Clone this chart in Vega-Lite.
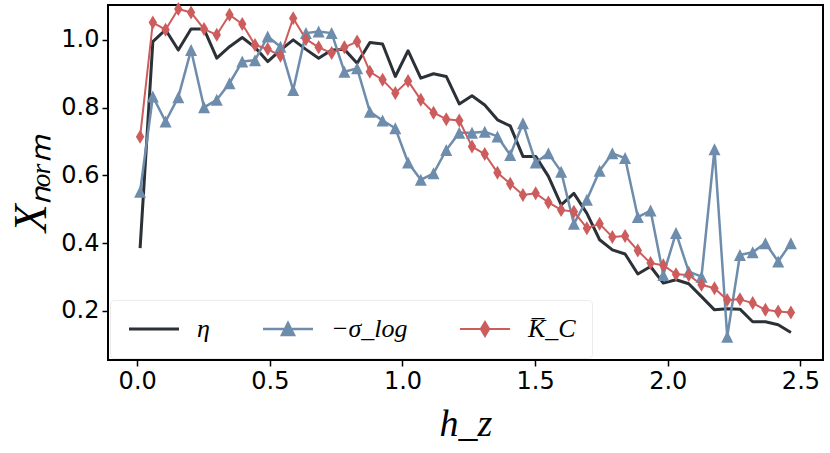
{
"$schema": "https://vega.github.io/schema/vega-lite/v6.json",
"width": 715, "height": 355,
"autosize": {"type": "none"},
"padding": {"left": 108, "top": 5, "right": 7, "bottom": 93},
"background": "white",
"config": {
 "view": {"stroke": "black", "strokeWidth": 2},
 "axis": {"domain": false, "grid": false, "ticks": true, "tickColor": "black", "tickWidth": 1.5, "tickSize": 6,
  "labelFont": "DejaVu Sans", "labelFontSize": 24, "labelColor": "black", "labelPadding": 3,
  "titleFont": "Liberation Serif", "titleFontStyle": "italic", "titleFontWeight": "normal", "titleColor": "black"}
},
"data": {"values": [
{"h":0.011,"v":0.385,"s":"eta"},{"h":0.059,"v":0.995,"s":"eta"},{"h":0.107,"v":1.030,"s":"eta"},{"h":0.155,"v":0.970,"s":"eta"},{"h":0.203,"v":1.032,"s":"eta"},{"h":0.252,"v":1.032,"s":"eta"},{"h":0.300,"v":0.946,"s":"eta"},{"h":0.348,"v":0.980,"s":"eta"},{"h":0.396,"v":1.007,"s":"eta"},{"h":0.444,"v":0.978,"s":"eta"},{"h":0.492,"v":0.936,"s":"eta"},{"h":0.540,"v":0.970,"s":"eta"},{"h":0.588,"v":1.000,"s":"eta"},{"h":0.636,"v":0.972,"s":"eta"},{"h":0.684,"v":0.946,"s":"eta"},{"h":0.733,"v":0.970,"s":"eta"},{"h":0.781,"v":0.972,"s":"eta"},{"h":0.829,"v":0.931,"s":"eta"},{"h":0.877,"v":0.992,"s":"eta"},{"h":0.925,"v":0.988,"s":"eta"},{"h":0.973,"v":0.892,"s":"eta"},{"h":1.021,"v":0.968,"s":"eta"},{"h":1.069,"v":0.887,"s":"eta"},{"h":1.117,"v":0.900,"s":"eta"},{"h":1.165,"v":0.892,"s":"eta"},{"h":1.214,"v":0.811,"s":"eta"},{"h":1.262,"v":0.835,"s":"eta"},{"h":1.310,"v":0.808,"s":"eta"},{"h":1.358,"v":0.764,"s":"eta"},{"h":1.406,"v":0.746,"s":"eta"},{"h":1.454,"v":0.656,"s":"eta"},{"h":1.502,"v":0.656,"s":"eta"},{"h":1.550,"v":0.597,"s":"eta"},{"h":1.598,"v":0.513,"s":"eta"},{"h":1.646,"v":0.547,"s":"eta"},{"h":1.695,"v":0.488,"s":"eta"},{"h":1.743,"v":0.410,"s":"eta"},{"h":1.791,"v":0.380,"s":"eta"},{"h":1.839,"v":0.368,"s":"eta"},{"h":1.887,"v":0.309,"s":"eta"},{"h":1.935,"v":0.331,"s":"eta"},{"h":1.983,"v":0.282,"s":"eta"},{"h":2.031,"v":0.292,"s":"eta"},{"h":2.079,"v":0.280,"s":"eta"},{"h":2.127,"v":0.242,"s":"eta"},{"h":2.176,"v":0.203,"s":"eta"},{"h":2.224,"v":0.206,"s":"eta"},{"h":2.272,"v":0.205,"s":"eta"},{"h":2.320,"v":0.168,"s":"eta"},{"h":2.368,"v":0.168,"s":"eta"},{"h":2.416,"v":0.159,"s":"eta"},{"h":2.464,"v":0.136,"s":"eta"},
{"h":0.011,"v":0.552,"s":"sigma"},{"h":0.059,"v":0.833,"s":"sigma"},{"h":0.107,"v":0.759,"s":"sigma"},{"h":0.155,"v":0.831,"s":"sigma"},{"h":0.203,"v":0.970,"s":"sigma"},{"h":0.252,"v":0.801,"s":"sigma"},{"h":0.300,"v":0.823,"s":"sigma"},{"h":0.348,"v":0.872,"s":"sigma"},{"h":0.396,"v":0.936,"s":"sigma"},{"h":0.444,"v":0.940,"s":"sigma"},{"h":0.492,"v":1.010,"s":"sigma"},{"h":0.540,"v":0.980,"s":"sigma"},{"h":0.588,"v":0.852,"s":"sigma"},{"h":0.636,"v":1.020,"s":"sigma"},{"h":0.684,"v":1.025,"s":"sigma"},{"h":0.733,"v":1.020,"s":"sigma"},{"h":0.781,"v":0.906,"s":"sigma"},{"h":0.829,"v":0.916,"s":"sigma"},{"h":0.877,"v":0.788,"s":"sigma"},{"h":0.925,"v":0.762,"s":"sigma"},{"h":0.973,"v":0.739,"s":"sigma"},{"h":1.021,"v":0.638,"s":"sigma"},{"h":1.069,"v":0.587,"s":"sigma"},{"h":1.117,"v":0.606,"s":"sigma"},{"h":1.165,"v":0.675,"s":"sigma"},{"h":1.214,"v":0.726,"s":"sigma"},{"h":1.262,"v":0.726,"s":"sigma"},{"h":1.310,"v":0.729,"s":"sigma"},{"h":1.358,"v":0.715,"s":"sigma"},{"h":1.406,"v":0.660,"s":"sigma"},{"h":1.454,"v":0.754,"s":"sigma"},{"h":1.502,"v":0.638,"s":"sigma"},{"h":1.550,"v":0.665,"s":"sigma"},{"h":1.598,"v":0.611,"s":"sigma"},{"h":1.646,"v":0.457,"s":"sigma"},{"h":1.695,"v":0.528,"s":"sigma"},{"h":1.743,"v":0.614,"s":"sigma"},{"h":1.791,"v":0.665,"s":"sigma"},{"h":1.839,"v":0.651,"s":"sigma"},{"h":1.887,"v":0.477,"s":"sigma"},{"h":1.935,"v":0.496,"s":"sigma"},{"h":1.983,"v":0.306,"s":"sigma"},{"h":2.031,"v":0.430,"s":"sigma"},{"h":2.079,"v":0.316,"s":"sigma"},{"h":2.127,"v":0.301,"s":"sigma"},{"h":2.176,"v":0.677,"s":"sigma"},{"h":2.224,"v":0.124,"s":"sigma"},{"h":2.272,"v":0.365,"s":"sigma"},{"h":2.320,"v":0.373,"s":"sigma"},{"h":2.368,"v":0.400,"s":"sigma"},{"h":2.416,"v":0.346,"s":"sigma"},{"h":2.464,"v":0.400,"s":"sigma"},
{"h":0.011,"v":0.714,"s":"kappa"},{"h":0.059,"v":1.051,"s":"kappa"},{"h":0.107,"v":1.030,"s":"kappa"},{"h":0.155,"v":1.091,"s":"kappa"},{"h":0.203,"v":1.081,"s":"kappa"},{"h":0.252,"v":1.032,"s":"kappa"},{"h":0.300,"v":1.015,"s":"kappa"},{"h":0.348,"v":1.074,"s":"kappa"},{"h":0.396,"v":1.047,"s":"kappa"},{"h":0.444,"v":0.985,"s":"kappa"},{"h":0.492,"v":0.973,"s":"kappa"},{"h":0.540,"v":0.953,"s":"kappa"},{"h":0.588,"v":1.064,"s":"kappa"},{"h":0.636,"v":1.002,"s":"kappa"},{"h":0.684,"v":0.978,"s":"kappa"},{"h":0.733,"v":0.961,"s":"kappa"},{"h":0.781,"v":0.978,"s":"kappa"},{"h":0.829,"v":0.995,"s":"kappa"},{"h":0.877,"v":0.906,"s":"kappa"},{"h":0.925,"v":0.882,"s":"kappa"},{"h":0.973,"v":0.843,"s":"kappa"},{"h":1.021,"v":0.879,"s":"kappa"},{"h":1.069,"v":0.823,"s":"kappa"},{"h":1.117,"v":0.785,"s":"kappa"},{"h":1.165,"v":0.766,"s":"kappa"},{"h":1.214,"v":0.762,"s":"kappa"},{"h":1.262,"v":0.685,"s":"kappa"},{"h":1.310,"v":0.663,"s":"kappa"},{"h":1.358,"v":0.608,"s":"kappa"},{"h":1.406,"v":0.575,"s":"kappa"},{"h":1.454,"v":0.542,"s":"kappa"},{"h":1.502,"v":0.547,"s":"kappa"},{"h":1.550,"v":0.520,"s":"kappa"},{"h":1.598,"v":0.498,"s":"kappa"},{"h":1.646,"v":0.493,"s":"kappa"},{"h":1.695,"v":0.444,"s":"kappa"},{"h":1.743,"v":0.457,"s":"kappa"},{"h":1.791,"v":0.418,"s":"kappa"},{"h":1.839,"v":0.421,"s":"kappa"},{"h":1.887,"v":0.378,"s":"kappa"},{"h":1.935,"v":0.341,"s":"kappa"},{"h":1.983,"v":0.335,"s":"kappa"},{"h":2.031,"v":0.308,"s":"kappa"},{"h":2.079,"v":0.306,"s":"kappa"},{"h":2.127,"v":0.277,"s":"kappa"},{"h":2.176,"v":0.267,"s":"kappa"},{"h":2.224,"v":0.232,"s":"kappa"},{"h":2.272,"v":0.234,"s":"kappa"},{"h":2.320,"v":0.223,"s":"kappa"},{"h":2.368,"v":0.203,"s":"kappa"},{"h":2.416,"v":0.198,"s":"kappa"},{"h":2.464,"v":0.195,"s":"kappa"}
]},
"layer": [
 {
  "mark": {"type": "line", "strokeJoin": "round"},
  "encoding": {
   "x": {"field": "h", "type": "quantitative", "scale": {"domain": [-0.11, 2.585], "nice": false, "zero": false},
         "axis": {"title": "h_z", "values": [0, 0.5, 1, 1.5, 2, 2.5], "format": ".1f", "titlePadding": 12, "titleFontSize": 38}},
   "y": {"field": "v", "type": "quantitative", "scale": {"domain": [0.055, 1.103], "nice": false, "zero": false},
         "axis": {"title": "X\u2099\u2092\u1d63\u2098", "values": [0.2, 0.4, 0.6, 0.8, 1.0], "format": ".1f", "titlePadding": 5, "titleFontSize": 46}},
   "color": {"field": "s", "type": "nominal",
     "scale": {"domain": ["eta", "sigma", "kappa"], "range": ["#2b3136", "#6e8cab", "#cd5c5c"]},
     "legend": {
       "title": null, "orient": "bottom-left", "offset": 2, "direction": "horizontal",
       "padding": 16, "strokeColor": "#ececec", "fillColor": "white", "cornerRadius": 4,
       "symbolSize": 400, "symbolStrokeWidth": 2,
       "labelFont": "Liberation Serif", "labelFontStyle": "italic", "labelFontSize": 26, "labelColor": "black",
       "labelOffset": 45, "columnPadding": 48,
       "labelExpr": "datum.value === 'eta' ? '\u03b7' : datum.value === 'sigma' ? '\u2212\u03c3_log' : 'K\u0305_C'",
       "encode": {"symbols": {"update": {
         "shape": {"signal": "datum.value === 'eta' ? 'M-1,0H4' : datum.value === 'sigma' ? 'M-1,0H4M1.5,-0.6L2.1,0.6L0.9,0.6Z' : 'M-1,0H4M1.5,-0.7L1.92,0L1.5,0.7L1.08,0Z'"},
         "fill": {"scale": "color", "field": "value"},
         "stroke": {"scale": "color", "field": "value"},
         "strokeWidth": {"signal": "datum.value === 'eta' ? 3.5 : 2"},
         "opacity": {"value": 1},
         "fillOpacity": {"value": 1},
         "strokeOpacity": {"value": 1}
       }}}
     }},
   "strokeWidth": {"field": "s", "type": "nominal", "scale": {"domain": ["eta", "sigma", "kappa"], "range": [3, 2, 2]}, "legend": null}
  }
 },
 {
  "transform": [{"filter": "datum.s !== 'eta'"}],
  "mark": {"type": "point", "filled": true, "size": 196, "opacity": 1},
  "encoding": {
   "x": {"field": "h", "type": "quantitative"},
   "y": {"field": "v", "type": "quantitative"},
   "color": {"field": "s", "type": "nominal"},
   "shape": {"field": "s", "type": "nominal",
     "scale": {"domain": ["sigma", "kappa"], "range": ["M0,-0.857L0.857,0.857L-0.857,0.857Z", "M0,-1L0.6,0L0,1L-0.6,0Z"]},
     "legend": null}
  }
 }
]
}
